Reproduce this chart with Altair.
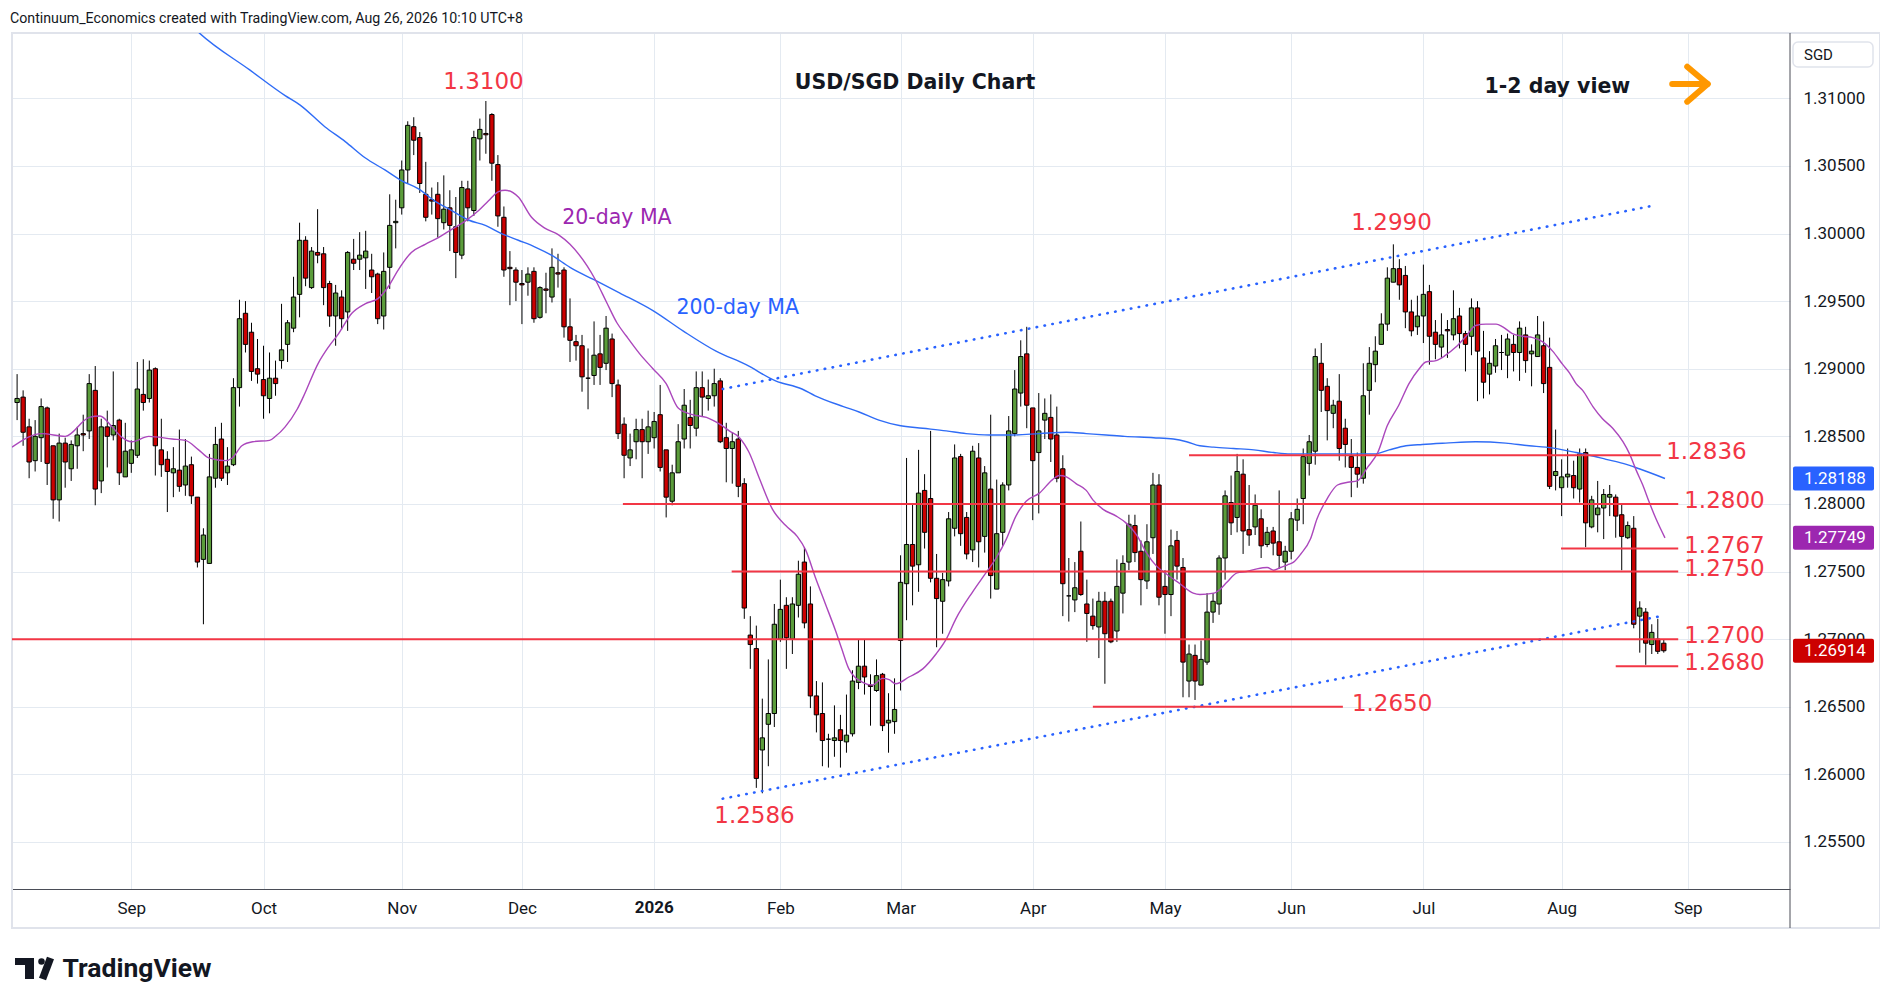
import altair as alt
import pandas as pd

# ---------------- candle data (index 0 = Aug 5 2025, weekdays, no Dec 25 / Jan 1) ----------------
OPEN = [
 1.2875, 1.2879, 1.2857, 1.2832, 1.2849, 1.2871, 1.2843, 1.2803, 1.2845, 1.2826,
 1.2843, 1.2852, 1.2854, 1.2884, 1.2817, 1.2857, 1.2851, 1.2862, 1.2820, 1.2830,
 1.2836, 1.2881, 1.2878, 1.2900, 1.2840, 1.2833, 1.2823, 1.2825, 1.2814, 1.2829,
 1.2805, 1.2759, 1.2756, 1.2819, 1.2848, 1.2823, 1.2829, 1.2886, 1.2941, 1.2927,
 1.2900, 1.2892, 1.2878, 1.2893, 1.2906, 1.2918, 1.2930, 1.2955, 1.2995, 1.2960,
 1.2986, 1.2985, 1.2963, 1.2939, 1.2953, 1.2942, 1.2981, 1.2981, 1.2982, 1.2973,
 1.2970, 1.2939, 1.2975, 1.3008, 1.3019, 1.3047, 1.3079, 1.3071, 1.3029, 1.3025,
 1.3029, 1.3008, 1.3019, 1.3005, 1.2984, 1.3033, 1.3017, 1.3070, 1.3074, 1.3088,
 1.3051, 1.3012, 1.2975, 1.2973, 1.2963, 1.2964, 1.2972, 1.2938, 1.2959, 1.2953,
 1.2971, 1.2973, 1.2931, 1.2920, 1.2917, 1.2893, 1.2895, 1.2911, 1.2904, 1.2922,
 1.2888, 1.2859, 1.2834, 1.2846, 1.2855, 1.2846, 1.2849, 1.2866, 1.2840, 1.2802,
 1.2823, 1.2848, 1.2864, 1.2856, 1.2886, 1.2878, 1.2880, 1.2891, 1.2849, 1.2841,
 1.2848, 1.2815, 1.2703, 1.2693, 1.2618, 1.2637, 1.2645, 1.2700, 1.2725, 1.2700,
 1.2725, 1.2757, 1.2726, 1.2658, 1.2645, 1.2626, 1.2625, 1.2633, 1.2624, 1.2630,
 1.2668, 1.2680, 1.2666, 1.2662, 1.2674, 1.2638, 1.2639, 1.2699, 1.2741, 1.2770,
 1.2755, 1.2810, 1.2804, 1.2745, 1.2728, 1.2743, 1.2782, 1.2835, 1.2790, 1.2766,
 1.2834, 1.2776, 1.2811, 1.2737, 1.2779, 1.2814, 1.2852, 1.2882, 1.2911, 1.2871,
 1.2838, 1.2862, 1.2864, 1.2851, 1.2826, 1.2732, 1.2729, 1.2765, 1.2726, 1.2717,
 1.2709, 1.2728, 1.2728, 1.2706, 1.2734, 1.2757, 1.2784, 1.2765, 1.2743, 1.2775,
 1.2814, 1.2739, 1.2733, 1.2773, 1.2753, 1.2669, 1.2688, 1.2666, 1.2683, 1.2720,
 1.2726, 1.2760, 1.2801, 1.2790, 1.2822, 1.2781, 1.2783, 1.2789, 1.2770, 1.2780,
 1.2772, 1.2757, 1.2765, 1.2788, 1.2804, 1.2830, 1.2839, 1.2904, 1.2887, 1.2867,
 1.2876, 1.2856, 1.2835, 1.2827, 1.2819, 1.2884, 1.2903, 1.2918, 1.2933, 1.2964,
 1.2974, 1.2969, 1.2942, 1.2931, 1.2939, 1.2957, 1.2927, 1.2916, 1.2929, 1.2925,
 1.2939, 1.2926, 1.2924, 1.2945, 1.2908, 1.2896, 1.2902, 1.2912, 1.2910, 1.2918,
 1.2912, 1.2925, 1.2911, 1.2909, 1.2917, 1.2901, 1.2821, 1.2812, 1.2820, 1.2821,
 1.2811, 1.2838, 1.2783, 1.2792, 1.2797, 1.2805, 1.2805, 1.2792, 1.2775, 1.2782,
 1.2717, 1.2720, 1.2696, 1.2700, 1.2697,
]
HIGH = [
 1.2896, 1.2884, 1.2863, 1.2862, 1.2878, 1.2872, 1.2843, 1.2852, 1.2849, 1.2847,
 1.2857, 1.2866, 1.2896, 1.2902, 1.2863, 1.2869, 1.2898, 1.2863, 1.2860, 1.2847,
 1.2905, 1.2907, 1.2906, 1.2901, 1.2863, 1.2839, 1.2842, 1.2855, 1.2848, 1.2835,
 1.2805, 1.2782, 1.2837, 1.2857, 1.2860, 1.2842, 1.2893, 1.2951, 1.2950, 1.2934,
 1.2922, 1.2917, 1.2912, 1.2906, 1.2948, 1.2936, 1.2968, 1.3008, 1.2998, 1.2990,
 1.3018, 1.2990, 1.2965, 1.2962, 1.2958, 1.2987, 1.2996, 1.3001, 1.3002, 1.2985,
 1.2971, 1.2986, 1.3029, 1.3025, 1.3054, 1.3083, 1.3086, 1.3075, 1.3053, 1.3034,
 1.3038, 1.3043, 1.3032, 1.3027, 1.3039, 1.3039, 1.3076, 1.3085, 1.3098, 1.3089,
 1.3058, 1.3020, 1.2987, 1.2975, 1.2973, 1.2975, 1.2975, 1.2961, 1.2971, 1.2989,
 1.2985, 1.2975, 1.2952, 1.2925, 1.2925, 1.2915, 1.2935, 1.2925, 1.2939, 1.2926,
 1.2892, 1.2864, 1.2852, 1.2863, 1.2863, 1.2869, 1.2868, 1.2888, 1.2840, 1.2829,
 1.2859, 1.2885, 1.2877, 1.2898, 1.2898, 1.2892, 1.2900, 1.2893, 1.2860, 1.2853,
 1.2854, 1.2819, 1.2717, 1.2710, 1.2656, 1.2685, 1.2726, 1.2744, 1.2731, 1.2731,
 1.2758, 1.2768, 1.2739, 1.2669, 1.2668, 1.2630, 1.2651, 1.2644, 1.2659, 1.2677,
 1.2700, 1.2700, 1.2674, 1.2685, 1.2675, 1.2660, 1.2671, 1.2762, 1.2834, 1.2800,
 1.2840, 1.2822, 1.2854, 1.2763, 1.2749, 1.2794, 1.2844, 1.2837, 1.2794, 1.2843,
 1.2845, 1.2828, 1.2866, 1.2818, 1.2816, 1.2865, 1.2899, 1.2921, 1.2931, 1.2871,
 1.2882, 1.2878, 1.2881, 1.2872, 1.2836, 1.2760, 1.2757, 1.2787, 1.2744, 1.2730,
 1.2735, 1.2735, 1.2730, 1.2759, 1.2762, 1.2792, 1.2792, 1.2773, 1.2785, 1.2823,
 1.2822, 1.2751, 1.2781, 1.2780, 1.2760, 1.2696, 1.2696, 1.2699, 1.2734, 1.2734,
 1.2762, 1.2810, 1.2821, 1.2837, 1.2833, 1.2814, 1.2807, 1.2796, 1.2783, 1.2783,
 1.2810, 1.2769, 1.2794, 1.2804, 1.2841, 1.2851, 1.2915, 1.2919, 1.2893, 1.2877,
 1.2896, 1.2863, 1.2848, 1.2838, 1.2904, 1.2916, 1.2924, 1.2941, 1.2975, 1.2992,
 1.2981, 1.2976, 1.2951, 1.2954, 1.2977, 1.2962, 1.2936, 1.2941, 1.2936, 1.2958,
 1.2945, 1.2928, 1.2952, 1.2950, 1.2928, 1.2913, 1.2922, 1.2925, 1.2926, 1.2925,
 1.2935, 1.2931, 1.2918, 1.2939, 1.2935, 1.2923, 1.2855, 1.2833, 1.2841, 1.2832,
 1.2841, 1.2841, 1.2806, 1.2817, 1.2811, 1.2814, 1.2807, 1.2800, 1.2787, 1.2791,
 1.2728, 1.2723, 1.2711, 1.2715, 1.2700,
]
LOW = [
 1.2862, 1.2843, 1.2819, 1.2824, 1.2831, 1.2814, 1.2789, 1.2787, 1.2812, 1.2817,
 1.2826, 1.2839, 1.2848, 1.2799, 1.2808, 1.2827, 1.2847, 1.2814, 1.2820, 1.2823,
 1.2834, 1.2869, 1.2875, 1.2821, 1.2820, 1.2794, 1.2805, 1.2809, 1.2806, 1.2800,
 1.2753, 1.2711, 1.2756, 1.2812, 1.2817, 1.2814, 1.2828, 1.2872, 1.2912, 1.2891,
 1.2889, 1.2863, 1.2867, 1.2880, 1.2900, 1.2905, 1.2927, 1.2938, 1.2961, 1.2959,
 1.2978, 1.2947, 1.2931, 1.2917, 1.2929, 1.2928, 1.2973, 1.2973, 1.2959, 1.2956,
 1.2933, 1.2929, 1.2959, 1.2989, 1.3014, 1.3037, 1.3058, 1.3030, 1.3009, 1.3014,
 1.2997, 1.3003, 1.2987, 1.2967, 1.2981, 1.3009, 1.3013, 1.3054, 1.3059, 1.3039,
 1.3005, 1.2968, 1.2947, 1.2950, 1.2933, 1.2954, 1.2934, 1.2937, 1.2941, 1.2949,
 1.2960, 1.2923, 1.2905, 1.2906, 1.2883, 1.2870, 1.2888, 1.2888, 1.2899, 1.2879,
 1.2848, 1.2819, 1.2828, 1.2833, 1.2819, 1.2837, 1.2841, 1.2824, 1.2790, 1.2799,
 1.2823, 1.2841, 1.2841, 1.2850, 1.2865, 1.2869, 1.2872, 1.2845, 1.2816, 1.2815,
 1.2805, 1.2715, 1.2678, 1.2590, 1.2586, 1.2606, 1.2635, 1.2698, 1.2678, 1.2689,
 1.2716, 1.2708, 1.2649, 1.2631, 1.2606, 1.2605, 1.2613, 1.2605, 1.2616, 1.2628,
 1.2663, 1.2659, 1.2636, 1.2661, 1.2632, 1.2616, 1.2630, 1.2662, 1.2714, 1.2725,
 1.2735, 1.2767, 1.2742, 1.2694, 1.2704, 1.2739, 1.2776, 1.2769, 1.2759, 1.2757,
 1.2753, 1.2764, 1.2730, 1.2737, 1.2769, 1.2810, 1.2850, 1.2872, 1.2856, 1.2788,
 1.2793, 1.2848, 1.2831, 1.2816, 1.2717, 1.2713, 1.2720, 1.2732, 1.2698, 1.2707,
 1.2686, 1.2667, 1.2697, 1.2698, 1.2719, 1.2751, 1.2757, 1.2725, 1.2737, 1.2763,
 1.2725, 1.2704, 1.2717, 1.2744, 1.2657, 1.2657, 1.2655, 1.2666, 1.2681, 1.2712,
 1.2718, 1.2744, 1.2777, 1.2779, 1.2763, 1.2769, 1.2777, 1.2760, 1.2768, 1.2762,
 1.2752, 1.2751, 1.2759, 1.2780, 1.2785, 1.2821, 1.2829, 1.2868, 1.2847, 1.2856,
 1.2832, 1.2827, 1.2805, 1.2812, 1.2815, 1.2866, 1.2890, 1.2918, 1.2928, 1.2964,
 1.2951, 1.2930, 1.2924, 1.2925, 1.2919, 1.2903, 1.2907, 1.2908, 1.2908, 1.2921,
 1.2915, 1.2898, 1.2910, 1.2876, 1.2878, 1.2881, 1.2897, 1.2899, 1.2893, 1.2898,
 1.2891, 1.2897, 1.2887, 1.2909, 1.2882, 1.2811, 1.2810, 1.2791, 1.2812, 1.2804,
 1.2801, 1.2768, 1.2782, 1.2779, 1.2774, 1.2791, 1.2775, 1.2751, 1.2774, 1.2708,
 1.2690, 1.2681, 1.2689, 1.2689, 1.2690,
]
CLOSE = [
 1.2878, 1.2853, 1.2831, 1.2850, 1.2872, 1.2830, 1.2803, 1.2845, 1.2831, 1.2844,
 1.2851, 1.2851, 1.2889, 1.2811, 1.2857, 1.2850, 1.2858, 1.2823, 1.2839, 1.2840,
 1.2885, 1.2875, 1.2899, 1.2843, 1.2829, 1.2824, 1.2826, 1.2813, 1.2828, 1.2806,
 1.2757, 1.2777, 1.2820, 1.2844, 1.2819, 1.2828, 1.2886, 1.2937, 1.2918, 1.2898,
 1.2896, 1.2880, 1.2893, 1.2889, 1.2914, 1.2934, 1.2953, 1.2995, 1.2967, 1.2987,
 1.2984, 1.2960, 1.2939, 1.2956, 1.2937, 1.2986, 1.2978, 1.2984, 1.2987, 1.2968,
 1.2937, 1.2972, 1.3006, 1.3009, 1.3047, 1.3080, 1.3069, 1.3037, 1.3012, 1.3024,
 1.3011, 1.3018, 1.3006, 1.2986, 1.3034, 1.3019, 1.3071, 1.3077, 1.3073, 1.3052,
 1.3013, 1.2973, 1.2974, 1.2964, 1.2962, 1.2970, 1.2937, 1.2960, 1.2958, 1.2975,
 1.2970, 1.2931, 1.2921, 1.2917, 1.2894, 1.2893, 1.2910, 1.2901, 1.2930, 1.2889,
 1.2852, 1.2836, 1.2840, 1.2855, 1.2846, 1.2857, 1.2861, 1.2827, 1.2805, 1.2823,
 1.2846, 1.2873, 1.2858, 1.2886, 1.2879, 1.2880, 1.2889, 1.2846, 1.2841, 1.2846,
 1.2813, 1.2723, 1.2696, 1.2597, 1.2627, 1.2645, 1.2711, 1.2722, 1.2701, 1.2726,
 1.2748, 1.2712, 1.2658, 1.2644, 1.2625, 1.2626, 1.2627, 1.2625, 1.2629, 1.2669,
 1.2680, 1.2672, 1.2665, 1.2673, 1.2636, 1.2640, 1.2648, 1.2742, 1.2770, 1.2754,
 1.2808, 1.2779, 1.2745, 1.2730, 1.2744, 1.2789, 1.2834, 1.2778, 1.2763, 1.2839,
 1.2772, 1.2823, 1.2747, 1.2778, 1.2814, 1.2854, 1.2885, 1.2909, 1.2873, 1.2832,
 1.2854, 1.2867, 1.2848, 1.2819, 1.2741, 1.2732, 1.2738, 1.2733, 1.2719, 1.2710,
 1.2728, 1.2704, 1.2698, 1.2739, 1.2756, 1.2785, 1.2764, 1.2744, 1.2772, 1.2814,
 1.2731, 1.2733, 1.2769, 1.2754, 1.2683, 1.2689, 1.2669, 1.2685, 1.2720, 1.2728,
 1.2760, 1.2806, 1.2786, 1.2824, 1.2780, 1.2777, 1.2799, 1.2769, 1.2779, 1.2771,
 1.2762, 1.2765, 1.2789, 1.2796, 1.2835, 1.2846, 1.2909, 1.2884, 1.2869, 1.2873,
 1.2841, 1.2844, 1.2827, 1.2822, 1.2880, 1.2904, 1.2913, 1.2933, 1.2967, 1.2974,
 1.2962, 1.2942, 1.2928, 1.2939, 1.2955, 1.2924, 1.2918, 1.2925, 1.2928, 1.2937,
 1.2926, 1.2918, 1.2945, 1.2913, 1.2890, 1.2904, 1.2917, 1.2912, 1.2922, 1.2912,
 1.2930, 1.2906, 1.2913, 1.2925, 1.2889, 1.2813, 1.2824, 1.2820, 1.2822, 1.2812,
 1.2837, 1.2786, 1.2803, 1.2797, 1.2807, 1.2807, 1.2791, 1.2776, 1.2784, 1.2711,
 1.2723, 1.2697, 1.2705, 1.2691, 1.26914,
]

# ---------------- moving averages (candle index, value) ----------------
MA20_X = [-0.85, 4.1, 8.0, 12.0, 13.8, 15.8, 17.5, 19.1, 21.9, 25.8, 28.0, 30.2, 31.9, 34.6, 35.8,
          37.4, 39.2, 42.0, 43.0, 44.6, 46.6, 47.6, 50.1, 51.8, 53.5, 55.7, 57.9, 60.1, 61.8, 63.4,
          65.6, 67.9, 70.1, 72.3, 74.5, 76.8, 78.4, 80.1, 81.2, 83.4, 85.6, 87.8, 90.1, 92.0, 96.2,
          98.1, 99.8, 101.4, 103.6, 105.8, 108.0, 110.0, 112.4, 114.7, 116.9, 118.5, 120.2, 121.8,
          123.5, 125.7, 127.9, 129.8, 131.2, 132.8, 134.5, 136.2, 137.2, 138.4, 140.7, 142.3, 144.0,
          145.1, 146.2, 148.4, 150.7, 152.9, 154.6, 156.2, 159.0, 161.2, 162.9, 164.6, 166.2, 167.9,
          170.1, 172.3, 173.4, 174.6, 176.2, 177.9, 179.0, 180.7, 182.9, 184.5, 186.3, 187.9, 189.6,
          191.3, 193.5, 195.7, 196.8, 199.1, 200.2, 201.3, 203.0, 204.6, 206.3, 208.0, 209.1, 210.2,
          211.4, 212.4, 213.6, 215.2, 216.3, 218.0, 219.7, 221.4, 223.0, 224.7, 226.4, 228.0, 229.9,
          231.6, 233.3, 234.4, 236.1, 237.7, 239.4, 241.1, 242.7, 244.4, 246.1, 247.2, 248.8, 250.5,
          252.2, 253.8, 255.5, 257.2, 258.3, 259.4, 260.5, 262.2, 263.8, 265.5, 267.2, 268.3, 269.4,
          270.5, 271.6, 272.7, 274.2]
MA20_Y = [1.2842, 1.2852, 1.2850, 1.2864, 1.2865, 1.2857, 1.2849, 1.2846, 1.2850, 1.2848, 1.2847,
          1.2840, 1.2834, 1.2832, 1.2834, 1.2843, 1.2846, 1.2847, 1.2850, 1.2857, 1.2870, 1.2879,
          1.2904, 1.2916, 1.2926, 1.2941, 1.2948, 1.2952, 1.2961, 1.2973, 1.2986, 1.2992, 1.2997,
          1.3003, 1.3009, 1.3017, 1.3024, 1.3031, 1.3032, 1.3027, 1.3012, 1.3004, 1.2999, 1.2992,
          1.2966, 1.2949, 1.2934, 1.2924, 1.2911, 1.2900, 1.2889, 1.2871, 1.2866, 1.2864, 1.2859,
          1.2854, 1.2849, 1.2838, 1.2819, 1.2796, 1.2784, 1.2776, 1.2766, 1.2746, 1.2726, 1.2706,
          1.2693, 1.2678, 1.2668, 1.2666, 1.2671, 1.2670, 1.2667, 1.2672, 1.2678, 1.2689, 1.2700,
          1.2715, 1.2735, 1.2749, 1.2760, 1.2774, 1.2791, 1.2802, 1.2808, 1.2818, 1.2821, 1.2820,
          1.2815, 1.2810, 1.2803, 1.2796, 1.2791, 1.2786, 1.2777, 1.2764, 1.2754, 1.2748, 1.2741,
          1.2734, 1.2733, 1.2734, 1.2737, 1.2742, 1.2749, 1.2750, 1.2752, 1.2753, 1.2751, 1.2753,
          1.2755, 1.2757, 1.2763, 1.2774, 1.2789, 1.2804, 1.2814, 1.2816, 1.2817, 1.2827, 1.2838,
          1.2858, 1.2873, 1.2889, 1.2900, 1.2905, 1.2906, 1.2910, 1.2916, 1.2924, 1.2932, 1.2933,
          1.2933, 1.2931, 1.2926, 1.2924, 1.2923, 1.2920, 1.2913, 1.2903, 1.2897, 1.2889, 1.2884,
          1.2872, 1.2863, 1.2856, 1.2846, 1.2837, 1.2825, 1.2814, 1.2801, 1.2789, 1.27749]
MA200_X = [27.0, 30.4, 38.7, 44.6, 47.1, 51.2, 54.6, 57.9, 61.2, 64.0, 66.8, 69.5, 72.3, 75.1, 77.9,
           80.6, 83.4, 86.2, 88.9, 92.0, 95.9, 100.3, 105.8, 110.8, 116.3, 121.3, 126.2, 130.6,
           132.8, 137.5, 140.1, 143.4, 146.8, 150.7, 154.6, 157.9, 161.8, 165.7, 170.1, 174.6,
           177.9, 181.2, 184.3, 189.1, 192.4, 194.6, 196.8, 199.1, 202.4, 205.8, 209.1, 211.9,
           215.8, 219.1, 222.5, 225.8, 228.3, 231.1, 233.8, 237.7, 242.7, 247.7, 251.6, 254.4,
           257.2, 259.4, 261.6, 264.4, 267.2, 269.9, 274.2]
MA200_Y = [1.3163, 1.3148, 1.3121, 1.3102, 1.3095, 1.3079, 1.3068, 1.3056, 1.3047, 1.3039, 1.3033,
           1.3024, 1.3017, 1.3010, 1.3006, 1.3000, 1.2995, 1.2990, 1.2984, 1.2975, 1.2966, 1.2956,
           1.2943, 1.2928, 1.2913, 1.2903, 1.2891, 1.2885, 1.2880, 1.2872, 1.2868, 1.2862, 1.2858,
           1.2856, 1.2854, 1.2852, 1.2851, 1.2851, 1.2852, 1.2853, 1.2852, 1.2851, 1.2850, 1.2849,
           1.2848, 1.2846, 1.2843, 1.2842, 1.2841, 1.2840, 1.2838, 1.2837, 1.2837, 1.2837, 1.2837,
           1.2837, 1.2840, 1.2843, 1.2844, 1.2845, 1.2846, 1.2845, 1.2843, 1.2842, 1.2840, 1.2838,
           1.2836, 1.2833, 1.2830, 1.2826, 1.28188]

# ---------------- drawn channel and levels ----------------
CHANNEL_NAME = ["upper", "upper", "lower", "lower"]
CHANNEL_X = [117.4, 272.7, 117.4, 273.5]
CHANNEL_Y = [1.2885, 1.3021, 1.2582, 1.2717]

LEVELS = [1.2836, 1.2800, 1.2767, 1.2750, 1.2700, 1.2680, 1.2650]
LEVEL_TEXT = ["1.2836", "1.2800", "1.2767", "1.2750", "1.2700", "1.2680", "1.2650"]
LEVEL_START = [195.0, 100.8, 256.9, 118.9, -0.85, 266.0, 179.0]
LEVEL_END = [273.5, 276.4, 276.4, 276.4, 276.4, 276.4, 220.6]
LEVEL_LABEL_X = [274.4, 277.4, 277.4, 277.4, 277.4, 277.4, 222.1]

PEAK_TEXT = ["1.3100", "1.2990", "1.2586"]
PEAK_X = [77.6, 228.7, 122.7]
PEAK_Y = [1.31121, 1.30078, 1.25695]

MONTH_IDX = [19, 41, 64, 84, 106, 127, 147, 169, 191, 212, 234, 257, 278]
MONTH_LBL = ["Sep", "Oct", "Nov", "Dec", "2026", "Feb", "Mar", "Apr", "May", "Jun", "Jul", "Aug", "Sep"]
PRICE_TICKS = [1.255, 1.26, 1.265, 1.27, 1.275, 1.28, 1.285, 1.29, 1.295, 1.30, 1.305, 1.31]

BOX_VALUES = [1.28188, 1.27749, 1.26914]
BOX_TEXT = ["1.28188", "1.27749", "1.26914"]
BOX_COLORS = ["#2962ff", "#9c27b0", "#cc0000"]

# ---------------- layout ----------------
W, H = 1778, 856
X_DOMAIN = [-0.85, 295.0]
Y_DOMAIN = [1.25152, 1.31483]
HALF_BOX = 12 * (Y_DOMAIN[1] - Y_DOMAIN[0]) / H

UP, DOWN = "#5b9c3b", "#cc0000"
RED = "#f23645"
GRID = "#e4eaf1"
AXIS_LINE = "#4a4d57"
TXT = "#131722"

xsc = alt.Scale(domain=X_DOMAIN, nice=False, zero=False)
ysc = alt.Scale(domain=Y_DOMAIN, nice=False, zero=False)

label_expr = "[" + ",".join("'" + (m if m != "2026" else "") + "'" for m in MONTH_LBL) + "][indexof([" + \
             ",".join(str(v) for v in MONTH_IDX) + "], datum.value)]"

x_axis = alt.Axis(values=MONTH_IDX, labelExpr=label_expr, grid=True, gridColor=GRID, ticks=False,
                  tickSize=0, domainColor=AXIS_LINE, domainWidth=1, labelFont="Roboto", labelFontSize=17,
                  labelColor=TXT, labelPadding=11, title=None, labelFlush=False, labelOverlap=False)
y_axis = alt.Axis(orient="right", values=PRICE_TICKS, format=".5f", grid=True, gridColor=GRID,
                  ticks=False, tickSize=0, domain=False, labelPadding=13, labelFont="Roboto",
                  labelFontSize=17, labelColor=TXT, title=None, labelFlush=False, labelOverlap=False,
                  labelAlign="left", labelBaseline="middle")


def X(f):
    return alt.X(f, type="quantitative", scale=xsc, axis=x_axis)


def Y(f):
    return alt.Y(f, type="quantitative", scale=ysc, axis=y_axis)


one = pd.DataFrame({"k": [0]})
cdf = pd.DataFrame({"i": list(range(len(CLOSE))), "o": OPEN, "h": HIGH, "l": LOW, "c": CLOSE})

frame = alt.Chart(one).mark_rect(fillOpacity=0, stroke="#e0e3eb", strokeWidth=2).encode(
    x=alt.value(0), x2=alt.value(1868), y=alt.value(0), y2=alt.value(895))

wick = alt.Chart(cdf).mark_rule(color="#000000", strokeWidth=1).encode(
    x=X("i"), y=Y("l"), y2="h:Q")

body = alt.Chart(cdf).transform_calculate(
    xl="datum.i - 0.36", xr="datum.i + 0.36"
).mark_rect(stroke="#000000", strokeWidth=1).encode(
    x=X("xl"), x2="xr:Q", y=Y("o"), y2="c:Q",
    fill=alt.condition("datum.c >= datum.o", alt.value(UP), alt.value(DOWN)))

ma200 = alt.Chart(pd.DataFrame({"i": MA200_X, "v": MA200_Y})).mark_line(
    color="#2f6cf6", strokeWidth=1.4, interpolate="monotone", clip=True).encode(x=X("i"), y=Y("v"))
ma20 = alt.Chart(pd.DataFrame({"i": MA20_X, "v": MA20_Y})).mark_line(
    color="#ab47bc", strokeWidth=1.4, interpolate="monotone", clip=True).encode(x=X("i"), y=Y("v"))

channel = alt.Chart(pd.DataFrame({"g": CHANNEL_NAME, "i": CHANNEL_X, "v": CHANNEL_Y})).mark_line(
    color="#2962ff", strokeWidth=2.6, strokeDash=[0.5, 7.5], strokeCap="round").encode(
    x=X("i"), y=Y("v"), detail="g:N")

ldf = pd.DataFrame({"v": LEVELS, "t": LEVEL_TEXT, "a": LEVEL_START, "b": LEVEL_END, "lx": LEVEL_LABEL_X})
level_lines = alt.Chart(ldf).mark_rule(color=RED, strokeWidth=2).encode(x=X("a"), x2="b:Q", y=Y("v"))
level_text = alt.Chart(ldf).mark_text(align="left", baseline="middle", font="DejaVu Sans", fontSize=23,
                                      color=RED, dy=-3).encode(x=X("lx"), y=Y("v"), text="t:N")

peak_text = alt.Chart(pd.DataFrame({"t": PEAK_TEXT, "i": PEAK_X, "v": PEAK_Y})).mark_text(
    align="center", baseline="middle", font="DejaVu Sans", fontSize=23, color=RED).encode(
    x=X("i"), y=Y("v"), text="t:N")

ma_text = alt.Chart(pd.DataFrame({"t": ["20-day MA", "200-day MA"], "i": [99.8, 119.9],
                                  "v": [1.30114, 1.29446], "col": ["#9c27b0", "#2962ff"]})).mark_text(
    align="center", baseline="middle", font="DejaVu Sans", fontSize=20.5).encode(
    x=X("i"), y=Y("v"), text="t:N", color=alt.Color("col:N", scale=None))

title_text = alt.Chart(pd.DataFrame({"t": ["USD/SGD Daily Chart", "1-2 day view"], "i": [149.4, 256.3],
                                     "v": [1.31112, 1.31081]})).mark_text(
    align="center", baseline="middle", font="DejaVu Sans", fontSize=20.5, fontWeight="bold",
    color=TXT).encode(x=X("i"), y=Y("v"), text="t:N")

arrow = alt.Chart(pd.DataFrame({"a": [275.4, 277.9, 277.9], "b": [280.9, 281.3, 281.3],
                                "v1": [1.31106, 1.31234, 1.30975], "v2": [1.31106, 1.31106, 1.31106]})).mark_rule(
    color="#ff9800", strokeWidth=6, strokeCap="round").encode(x=X("a"), x2="b:Q", y=Y("v1"), y2="v2:Q")

year_label = alt.Chart(pd.DataFrame({"i": [106], "t": ["2026"]})).mark_text(
    align="center", baseline="top", font="Roboto", fontSize=17, fontWeight="bold", color=TXT).encode(
    x=X("i"), y=alt.value(H + 11), text="t:N")

axis_sep = alt.Chart(one).mark_rule(color=AXIS_LINE, strokeWidth=1).encode(
    x=alt.value(W), y=alt.value(0), y2=alt.value(895))

bdf = pd.DataFrame({"v": BOX_VALUES, "t": BOX_TEXT, "col": BOX_COLORS,
                    "lo": [b - HALF_BOX for b in BOX_VALUES], "hi": [b + HALF_BOX for b in BOX_VALUES]})
boxes = alt.Chart(bdf).mark_rect(cornerRadius=2).encode(
    x=alt.value(W + 3), x2=alt.value(W + 84), y=Y("lo"), y2="hi:Q", fill=alt.Color("col:N", scale=None))
box_text = alt.Chart(bdf).mark_text(align="left", baseline="middle", font="Roboto", fontSize=17,
                                    color="#ffffff").encode(x=alt.value(W + 14), y=Y("v"), text="t:N")

sgd_box = alt.Chart(one).mark_rect(fill="#ffffff", stroke="#e0e3eb", strokeWidth=1.5, cornerRadius=5).encode(
    x=alt.value(W + 3), x2=alt.value(W + 83), y=alt.value(9), y2=alt.value(34))
sgd_text = alt.Chart(pd.DataFrame({"t": ["SGD"]})).mark_text(
    align="left", baseline="middle", font="Roboto", fontSize=15, color=TXT).encode(
    x=alt.value(W + 14), y=alt.value(22), text="t:N")

header = alt.Chart(pd.DataFrame({"t": ["Continuum_Economics created with TradingView.com, Aug 26, 2026 10:10 UTC+8"]})).mark_text(
    align="left", baseline="middle", font="Roboto", fontSize=14.2, color=TXT).encode(
    x=alt.value(-2), y=alt.value(-14), text="t:N")

logo_bar = alt.Chart(pd.DataFrame({"x1": [3, 13], "x2": [22, 22], "y1": [925, 932], "y2": [932, 946]})).mark_rect(
    color=TXT).encode(x=alt.X("x1:Q", scale=None, axis=None), x2="x2:Q",
                      y=alt.Y("y1:Q", scale=None, axis=None), y2="y2:Q")
logo_dot = alt.Chart(one).mark_point(filled=True, color=TXT, size=42, opacity=1).encode(
    x=alt.value(29.5), y=alt.value(928.5))
logo_slash = alt.Chart(one).mark_rule(color=TXT, strokeWidth=7.5).encode(
    x=alt.value(38.5), x2=alt.value(30.5), y=alt.value(925), y2=alt.value(946))
logo_text = alt.Chart(pd.DataFrame({"t": ["TradingView"]})).mark_text(
    align="left", baseline="middle", font="Roboto", fontSize=26.5, fontWeight="bold", color=TXT).encode(
    x=alt.value(50.5), y=alt.value(936), text="t:N")

chart = alt.layer(
    frame, wick, body, ma200, ma20, channel, level_lines, level_text, peak_text, ma_text, title_text,
    arrow, year_label, axis_sep, boxes, box_text, sgd_box, sgd_text, header,
    logo_bar, logo_dot, logo_slash, logo_text
).properties(
    width=W, height=H, background="#ffffff",
    padding={"left": 4, "top": 25, "right": 90, "bottom": 100},
    autosize=alt.AutoSizeParams(type="none"),
).configure_view(stroke=None)

chart.save("out.html", embed_options={"renderer": "svg", "actions": False})
